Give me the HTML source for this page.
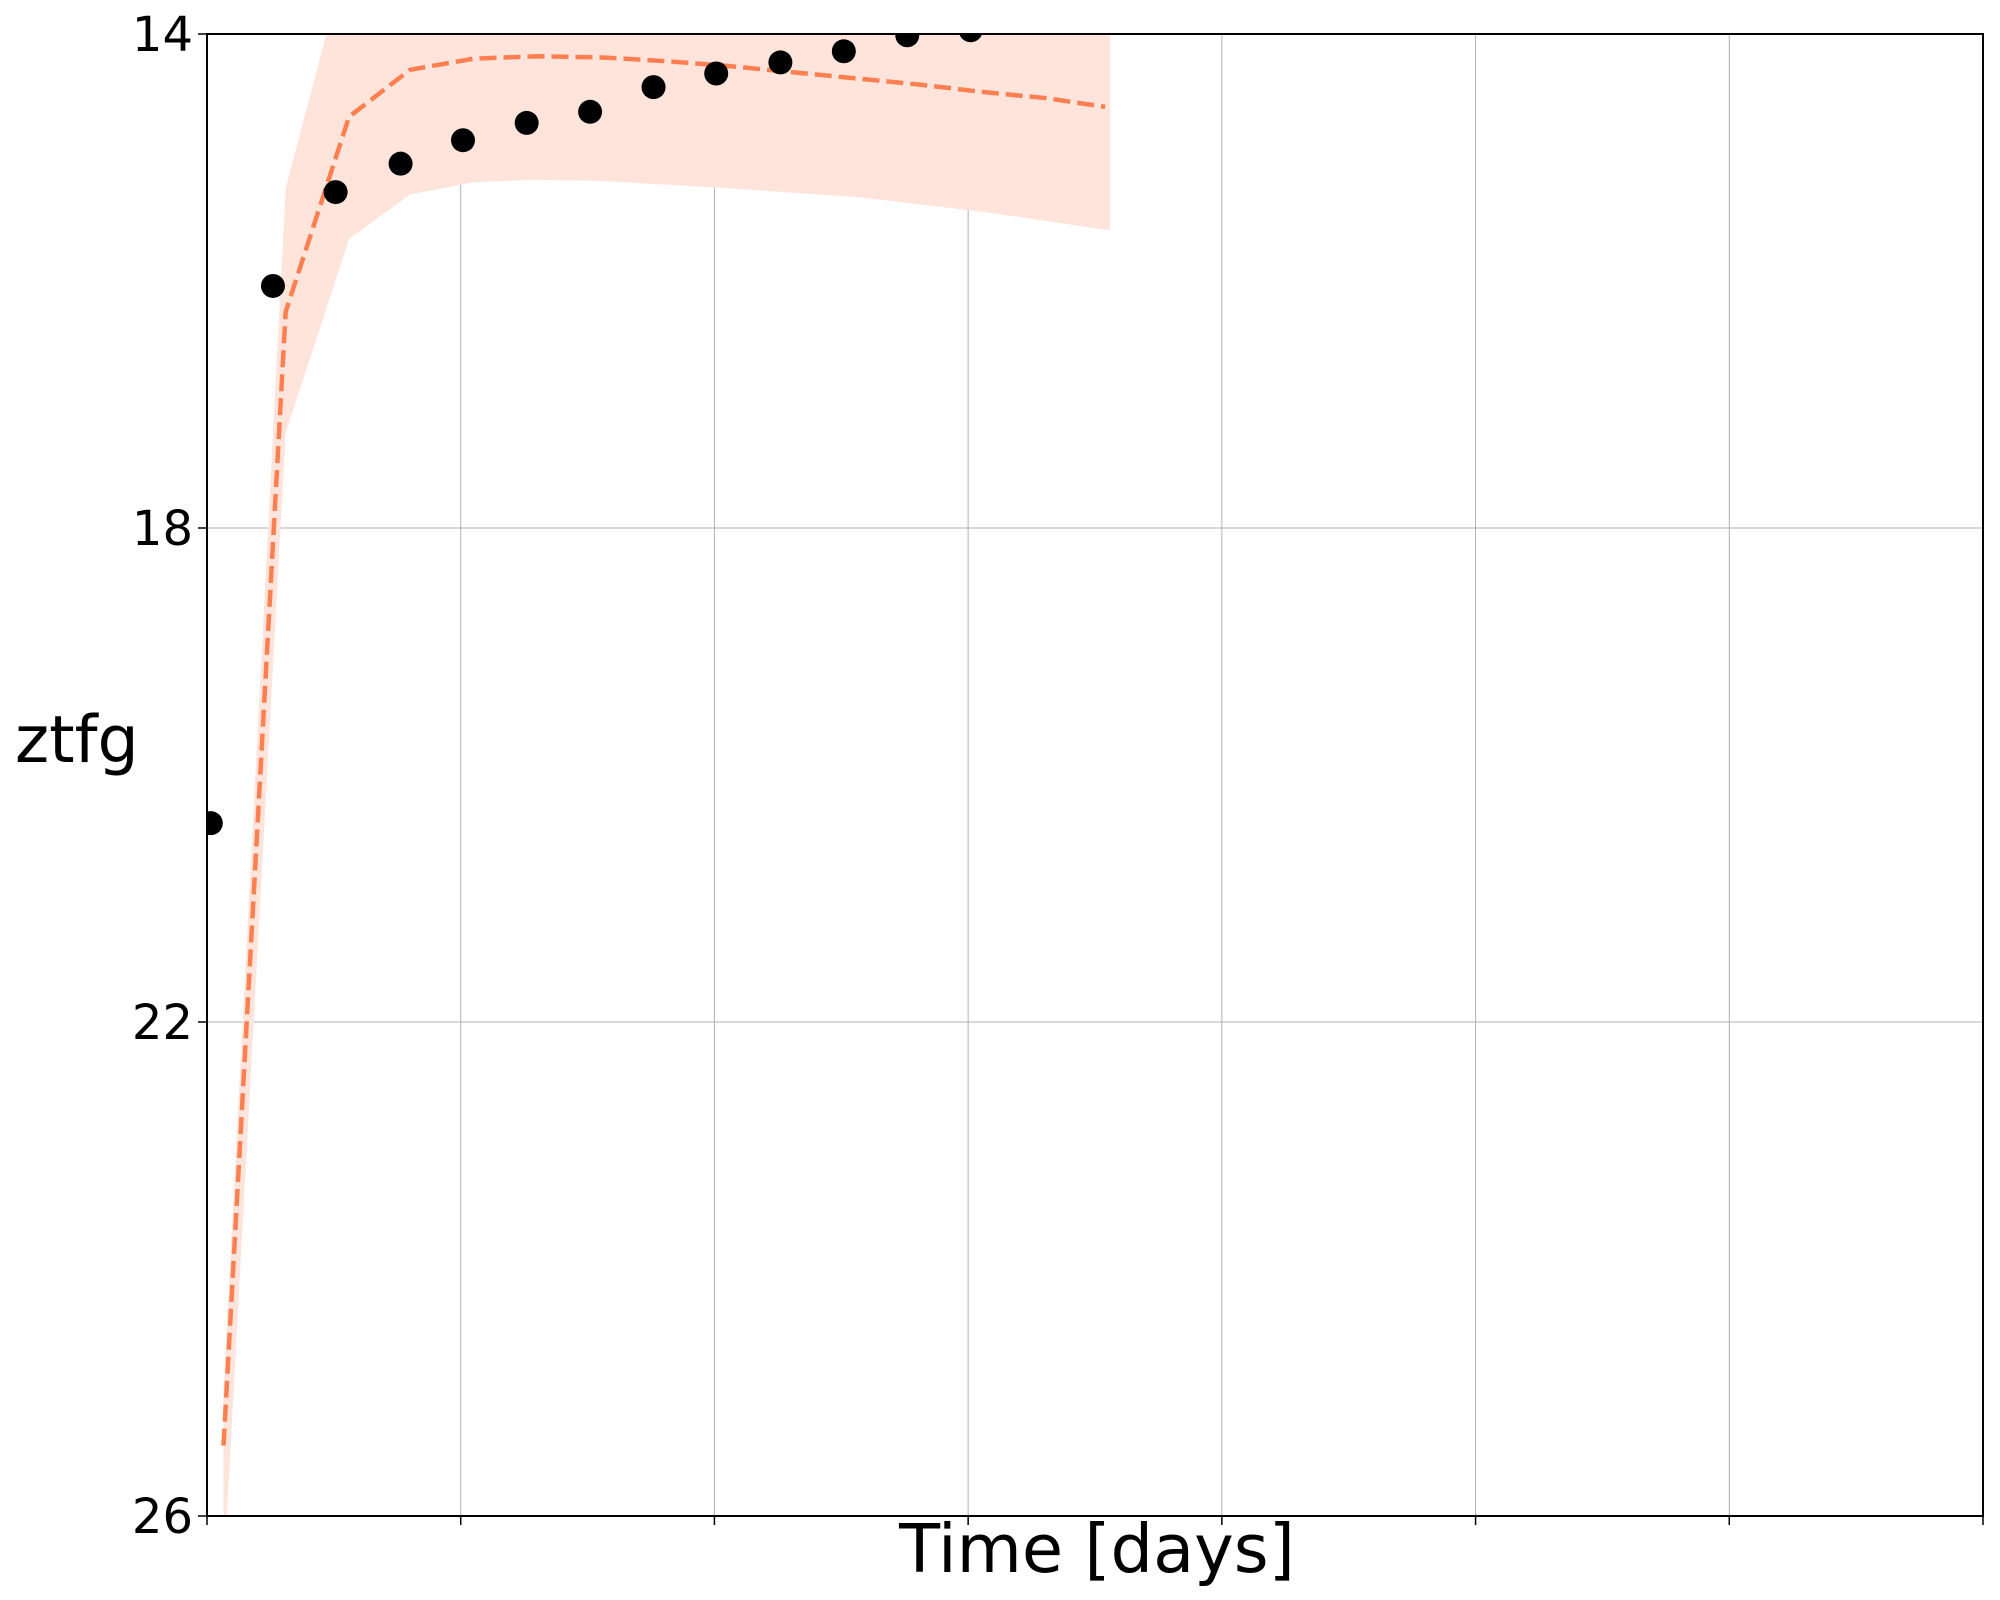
<!DOCTYPE html>
<html><head><meta charset="utf-8"><style>
html,body{margin:0;padding:0;background:#fff;}
svg{display:block;font-family:"DejaVu Sans","Liberation Sans",sans-serif;}
</style></head><body>
<svg id="chart" width="2000" height="1600" viewBox="0 0 2000 1600">
<defs><clipPath id="plotclip"><rect x="207" y="34" width="1776" height="1482"/></clipPath></defs>
<g id="grid"></g>
<g id="marks" clip-path="url(#plotclip)"></g>
<rect x="207" y="34" width="1776" height="1482" fill="none" stroke="#000" stroke-width="2"/>
<g id="ticks"></g>
<text x="15" y="762" font-size="65">ztfg</text>
<text x="1097" y="1572" font-size="67" text-anchor="middle">Time [days]</text>
</svg>
<script>
const yTicks = [14, 18, 22, 26];
const xGrid = [0, 1, 2, 3, 4, 5, 6, 7];
const obsX = [0.015, 0.26, 0.507, 0.763, 1.009, 1.26, 1.51, 1.76, 2.007, 2.26, 2.51, 2.76, 3.01, 3.26];
const obsY = [20.39, 16.04, 15.28, 15.05, 14.86, 14.72, 14.63, 14.43, 14.32, 14.23, 14.14, 14.01, 13.97, 13.87];
const modelX = [0.065, 0.31, 0.56, 0.80, 1.05, 1.30, 1.56, 1.81, 2.06, 2.31, 2.56, 2.81, 3.06, 3.31, 3.54];
const modelY = [25.43, 16.25, 14.67, 14.29, 14.20, 14.18, 14.19, 14.22, 14.26, 14.31, 14.36, 14.41, 14.47, 14.52, 14.59];
const bandX = [0.065, 0.31, 0.56, 0.80, 1.05, 1.30, 1.56, 2.06, 2.56, 3.06, 3.56];
const bandUpper = [25.0, 15.25, 13.3, 13.0, 13.0, 13.0, 13.0, 13.0, 13.0, 13.0, 13.0];
const bandLower = [26.5, 17.23, 15.66, 15.30, 15.20, 15.18, 15.19, 15.25, 15.32, 15.44, 15.59];

const X0=207, X1=1983, Y0=34, Y1=1516;
const xs = v => X0 + v/7*(X1-X0);
const ys = v => Y0 + (v-14)/12*(Y1-Y0);
const NS='http://www.w3.org/2000/svg';
function mk(tag, parent){const e=document.createElementNS(NS,tag);parent.appendChild(e);return e;}
const grid=document.getElementById('grid'), marks=document.getElementById('marks'), ticks=document.getElementById('ticks');

xGrid.forEach(v=>{
  const l=mk('line',grid);
  
  
  l.setAttribute('x1',xs(v));l.setAttribute('x2',xs(v));l.setAttribute('y1',Y0);l.setAttribute('y2',Y1);
  l.setAttribute('stroke','#b0b0b0');l.setAttribute('stroke-width','1');
  const t=mk('line',ticks);
  
  
  t.setAttribute('x1',xs(v));t.setAttribute('x2',xs(v));t.setAttribute('y1',Y1);t.setAttribute('y2',Y1+9);
  t.setAttribute('stroke','#000');t.setAttribute('stroke-width','1.5');
});
yTicks.forEach(v=>{
  const l=mk('line',grid);
  
  
  l.setAttribute('x1',X0);l.setAttribute('x2',X1);l.setAttribute('y1',ys(v));l.setAttribute('y2',ys(v));
  l.setAttribute('stroke','#b0b0b0');l.setAttribute('stroke-width','1');
  const t=mk('line',ticks);
  
  
  t.setAttribute('x1',X0-9);t.setAttribute('x2',X0);t.setAttribute('y1',ys(v));t.setAttribute('y2',ys(v));
  t.setAttribute('stroke','#000');t.setAttribute('stroke-width','1.5');
  const tx=mk('text',ticks);
  
  
  tx.setAttribute('x',X0-14);tx.setAttribute('y',ys(v)+17);tx.setAttribute('font-size','48');tx.setAttribute('text-anchor','end');
  tx.textContent=v;
});

let d='';
bandX.forEach((v,i)=>{d+=(i?'L':'M')+xs(v)+','+ys(bandUpper[i]);});
for(let i=bandX.length-1;i>=0;i--){d+='L'+xs(bandX[i])+','+ys(bandLower[i]);}
const band=mk('path',marks);


band.setAttribute('d',d+'Z');band.setAttribute('fill','#ffe4dc');

const line=mk('polyline',marks);


line.setAttribute('points',modelX.map((v,i)=>xs(v)+','+ys(modelY[i])).join(' '));
line.setAttribute('fill','none');line.setAttribute('stroke','#ff7f50');line.setAttribute('stroke-width','4.5');line.setAttribute('stroke-dasharray','17,7');

obsX.forEach((v,i)=>{
  const c=mk('circle',marks);
  
  
  c.setAttribute('cx',xs(v));c.setAttribute('cy',ys(obsY[i]));c.setAttribute('r','12');c.setAttribute('fill','#000');
});
</script>
</body></html>
